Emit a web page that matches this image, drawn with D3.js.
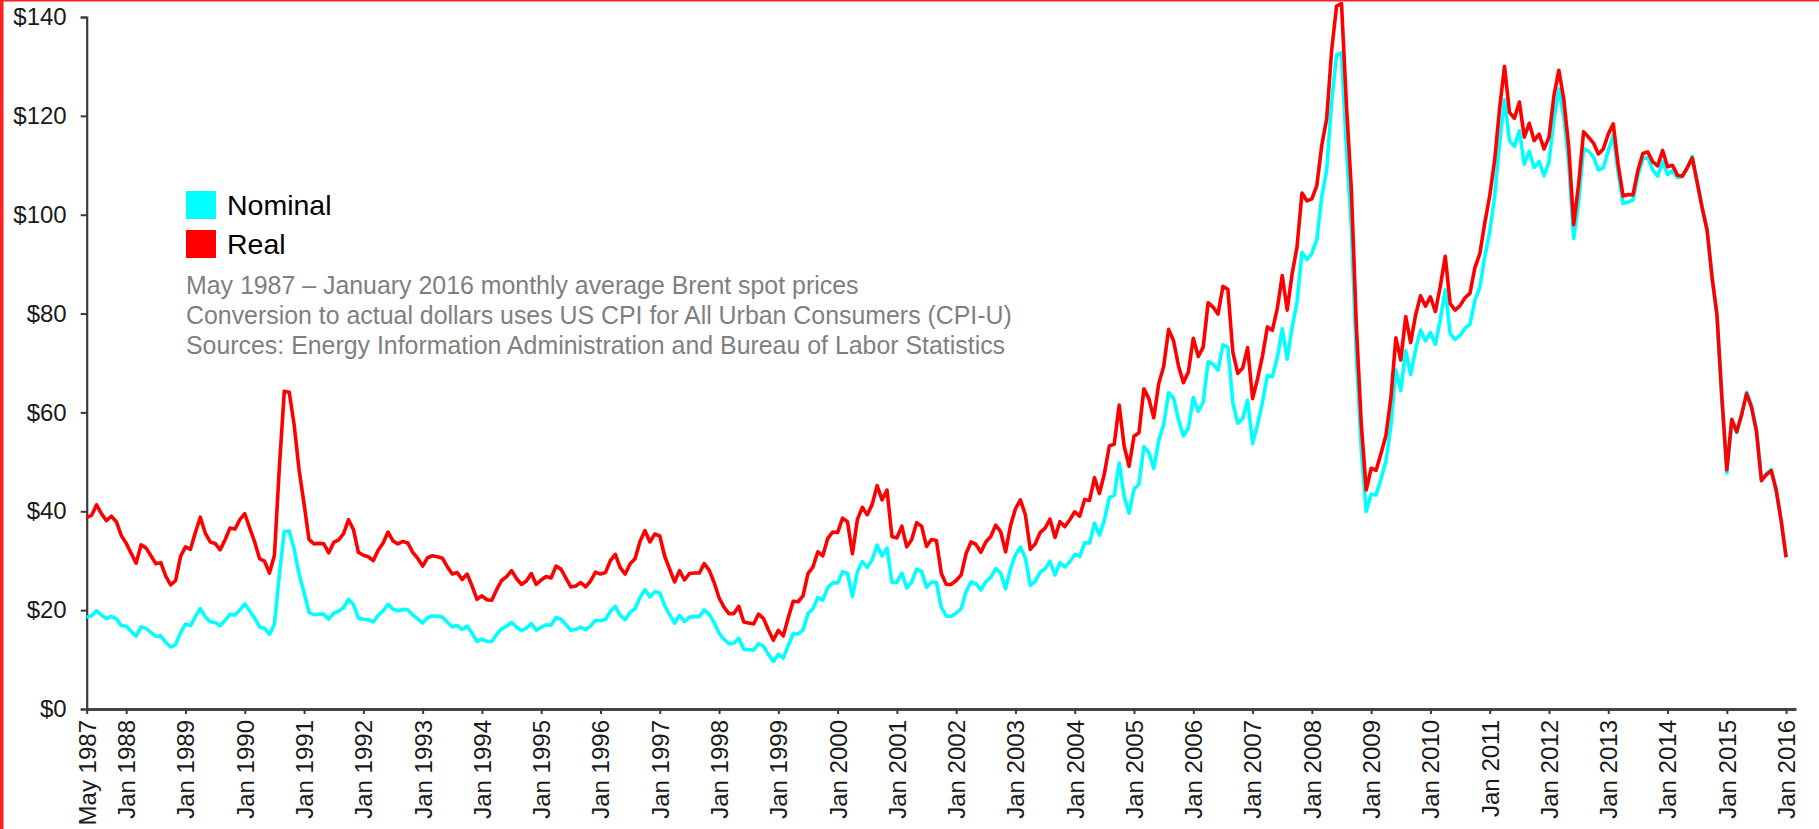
<!DOCTYPE html>
<html>
<head>
<meta charset="utf-8">
<script src="https://cdn.jsdelivr.net/npm/d3@7"></script>
<style>
  html, body { margin: 0; padding: 0; background: #fff; overflow: hidden; }
  svg { display: block; font-family: "Liberation Sans", Arial, sans-serif; }
</style>
</head>
<body>
<svg id="chart" width="1819" height="829"></svg>
<script>
// Brent spot price, monthly average, May 1987 - Jan 2016 (US$ per barrel)
const firstMonth = 'May 1987';

const nominal = [
  18.58, 18.86, 19.86, 18.98, 18.31, 18.76, 18.25, 16.88,                          // 1987
  16.75, 15.73, 14.73, 16.60, 16.31, 15.49, 14.68, 14.79, 13.45, 12.54, 13.02, 15.44, // 1988
  17.17, 16.89, 18.70, 20.32, 18.63, 17.67, 17.51, 16.83, 17.92, 19.14, 19.03, 20.02, // 1989
  21.25, 19.81, 18.39, 16.61, 16.35, 15.10, 17.17, 27.17, 35.92, 36.02, 32.31, 27.28, // 1990
  23.57, 19.54, 19.08, 19.18, 19.19, 18.17, 19.40, 19.77, 20.50, 22.21, 21.11, 18.41, // 1991
  18.16, 18.05, 17.63, 18.92, 19.89, 21.16, 20.18, 19.86, 20.15, 20.08, 19.00, 18.25, // 1992
  17.42, 18.46, 18.80, 18.75, 18.59, 17.56, 16.62, 16.90, 16.08, 16.77, 15.33, 13.67, // 1993
  14.14, 13.70, 13.64, 15.09, 16.23, 16.75, 17.53, 16.59, 15.83, 16.37, 17.30, 15.92, // 1994
  16.54, 17.04, 16.93, 18.52, 18.17, 17.11, 15.93, 16.09, 16.55, 16.07, 16.83, 17.94, // 1995
  17.87, 18.12, 19.75, 20.76, 18.93, 18.07, 19.56, 20.27, 22.57, 24.12, 22.68, 23.73, // 1996
  23.54, 20.86, 19.09, 17.36, 18.96, 17.70, 18.59, 18.68, 18.68, 20.06, 19.15, 17.47, // 1997
  15.37, 14.12, 13.20, 13.29, 14.29, 12.07, 12.03, 11.88, 13.25, 12.68, 11.05, 9.64,  // 1998
  11.03, 10.30, 12.82, 15.21, 15.18, 15.98, 19.32, 20.26, 22.54, 22.01, 24.53, 25.51, // 1999
  25.51, 27.78, 27.49, 22.76, 27.74, 29.80, 28.68, 30.20, 33.14, 30.96, 32.55, 25.66, // 2000
  25.62, 27.50, 24.50, 25.66, 28.31, 27.85, 24.61, 25.68, 25.62, 20.54, 18.80, 18.71, // 2001
  19.42, 20.28, 23.70, 25.73, 25.35, 24.08, 25.74, 26.65, 28.40, 27.54, 24.34, 28.33, // 2002
  31.18, 32.77, 30.61, 25.00, 25.86, 27.65, 28.35, 29.89, 27.11, 29.61, 28.75, 29.81, // 2003
  31.28, 30.86, 33.63, 33.59, 37.57, 35.18, 38.22, 42.74, 43.20, 49.78, 43.11, 39.60, // 2004
  44.51, 45.48, 53.10, 51.88, 48.65, 54.35, 57.52, 63.98, 62.91, 58.54, 55.24, 56.86, // 2005
  62.99, 60.21, 62.06, 70.26, 69.78, 68.56, 73.67, 73.23, 61.96, 57.81, 58.76, 62.47, // 2006
  53.68, 57.56, 62.05, 67.49, 67.21, 71.05, 76.93, 70.76, 77.17, 82.34, 92.41, 90.93, // 2007
  92.18, 94.99, 103.64, 109.07, 122.80, 132.32, 132.72, 113.24, 97.23, 71.58, 52.45, 39.95, // 2008
  43.44, 43.32, 46.54, 50.18, 57.30, 68.61, 64.44, 72.51, 67.65, 72.77, 76.66, 74.46, // 2009
  76.17, 73.75, 78.83, 84.82, 75.95, 74.76, 75.58, 77.04, 77.84, 82.67, 85.28, 91.45, // 2010
  96.52, 103.72, 114.64, 123.26, 114.99, 113.83, 116.97, 110.22, 112.83, 109.55, 110.77, 107.87, // 2011
  110.69, 119.33, 125.45, 119.75, 110.34, 95.16, 102.62, 113.36, 112.86, 111.71, 109.06, 109.49, // 2012
  112.96, 116.05, 108.47, 102.25, 102.56, 102.92, 107.93, 111.28, 111.60, 109.08, 107.79, 110.76, // 2013
  108.12, 108.90, 107.48, 107.76, 109.54, 111.80, 106.77, 101.61, 97.09, 87.43, 79.44, 62.34, // 2014
  47.76, 58.10, 55.89, 59.52, 64.08, 61.48, 56.56, 46.52, 47.62, 48.43, 44.27, 38.01, // 2015
  30.70                                                                               // 2016
];

// same months, in January 2016 dollars (CPI-U)
const real = [
  38.7, 39.2, 41.3, 39.5, 38.1, 39.0, 37.9, 35.1,                   // 1987
  33.5, 31.5, 29.5, 33.2, 32.6, 31.0, 29.4, 29.6, 26.9, 25.1, 26.0, 30.9, // 1988
  32.8, 32.3, 35.7, 38.8, 35.6, 33.8, 33.5, 32.2, 34.2, 36.6, 36.4, 38.3, // 1989
  39.5, 36.6, 33.8, 30.4, 29.9, 27.5, 31.1, 48.9, 64.3, 64.1, 57.4, 48.3, // 1990
  41.5, 34.3, 33.4, 33.5, 33.4, 31.6, 33.7, 34.2, 35.5, 38.3, 36.3, 31.7, // 1991
  31.1, 30.8, 30.0, 32.1, 33.6, 35.8, 34.0, 33.4, 33.9, 33.6, 31.7, 30.5, // 1992
  28.9, 30.6, 31.0, 30.8, 30.5, 28.8, 27.3, 27.6, 26.2, 27.3, 24.9, 22.2, // 1993
  22.9, 22.1, 22.0, 24.2, 26.0, 26.8, 28.0, 26.4, 25.2, 25.9, 27.4, 25.2, // 1994
  26.1, 26.8, 26.5, 28.9, 28.3, 26.5, 24.7, 24.9, 25.6, 24.7, 25.9, 27.7, // 1995
  27.3, 27.6, 30.0, 31.3, 28.6, 27.3, 29.4, 30.4, 33.9, 36.1, 33.8, 35.4, // 1996
  35.0, 30.9, 28.3, 25.7, 28.0, 26.1, 27.4, 27.5, 27.5, 29.4, 28.1, 25.6, // 1997
  22.5, 20.6, 19.3, 19.3, 20.8, 17.6, 17.4, 17.2, 19.2, 18.3, 16.0, 13.9, // 1998
  15.9, 14.8, 18.4, 21.8, 21.7, 22.9, 27.4, 28.7, 31.8, 31.0, 34.5, 35.8, // 1999
  35.7, 38.6, 37.9, 31.4, 38.3, 40.8, 39.3, 41.4, 45.2, 42.3, 44.3, 34.9, // 2000
  34.6, 37.0, 32.8, 34.3, 37.7, 37.0, 32.9, 34.3, 34.1, 27.4, 25.2, 25.2, // 2001
  26.0, 27.1, 31.4, 33.8, 33.3, 31.7, 33.8, 34.9, 37.2, 35.9, 31.8, 37.1, // 2002
  40.5, 42.3, 39.3, 32.3, 33.4, 35.7, 36.6, 38.4, 34.7, 37.9, 36.9, 38.3, // 2003
  39.9, 39.0, 42.4, 42.2, 46.8, 43.6, 47.6, 53.2, 53.6, 61.5, 53.2, 49.1, // 2004
  55.2, 55.9, 64.8, 62.8, 58.9, 65.8, 69.3, 76.8, 74.5, 69.4, 66.0, 68.2, // 2005
  75.0, 71.3, 73.2, 82.2, 81.3, 79.9, 85.5, 84.9, 72.2, 67.9, 69.0, 73.1, // 2006
  62.8, 66.8, 71.4, 77.3, 76.6, 81.0, 87.7, 80.7, 88.0, 93.5, 104.4, 102.8, // 2007
  103.2, 105.9, 114.0, 119.4, 133.2, 142.2, 142.7, 122.3, 105.0, 77.7, 57.7, 44.3, // 2008
  48.7, 48.3, 51.7, 55.4, 63.0, 75.1, 70.6, 79.4, 74.1, 79.7, 83.6, 81.5, // 2009
  83.4, 80.4, 85.5, 91.6, 82.0, 80.7, 81.6, 83.2, 84.1, 89.3, 92.1, 98.3, // 2010
  103.8, 111.0, 121.5, 130.0, 120.7, 119.5, 122.8, 115.7, 118.5, 115.0, 116.3, 113.3, // 2011
  115.7, 124.1, 129.2, 123.3, 113.7, 98.0, 106.2, 116.8, 115.7, 114.5, 112.3, 113.3, // 2012
  116.3, 118.4, 110.1, 103.8, 104.1, 104.0, 109.0, 112.4, 112.7, 110.7, 109.9, 113.0, // 2013
  109.7, 110.0, 108.0, 107.8, 109.5, 111.5, 106.5, 101.4, 96.9, 87.4, 79.8, 63.0, // 2014
  48.4, 58.6, 56.1, 59.6, 63.8, 61.0, 56.1, 46.2, 47.4, 48.2, 44.2, 38.1, // 2015
  30.7                                                                  // 2016
];

const tickLabels = [
  'May 1987', 'Jan 1988', 'Jan 1989', 'Jan 1990', 'Jan 1991', 'Jan 1992', 'Jan 1993',
  'Jan 1994', 'Jan 1995', 'Jan 1996', 'Jan 1997', 'Jan 1998', 'Jan 1999', 'Jan 2000',
  'Jan 2001', 'Jan 2002', 'Jan 2003', 'Jan 2004', 'Jan 2005', 'Jan 2006', 'Jan 2007',
  'Jan 2008', 'Jan 2009', 'Jan 2010', 'Jan 2011', 'Jan 2012', 'Jan 2013', 'Jan 2014',
  'Jan 2015', 'Jan 2016'
];
const yTicks = [0, 20, 40, 60, 80, 100, 120, 140];

const seriesNames = ['Nominal', 'Real'];
const seriesColors = ['#00ffff', '#ff0000'];

const notes = [
  'May 1987 \u2013 January 2016 monthly average Brent spot prices',
  'Conversion to actual dollars uses US CPI for All Urban Consumers (CPI-U)',
  'Sources: Energy Information Administration and Bureau of Labor Statistics'
];

const svg = d3.select('#chart');

// frame edges of the original screenshot
svg.append('rect').attr('x', 0).attr('y', 0).attr('width', 3.5).attr('height', 829).attr('fill', '#ff2020');
svg.append('rect').attr('x', 0).attr('y', 0).attr('width', 1819).attr('height', 1.5).attr('fill', '#ff2020');

const parseMonth = d3.timeParse('%b %Y');
const start = parseMonth(firstMonth);
const monthIndex = label => d3.timeMonth.count(start, parseMonth(label));

// axis runs two months past the last point
const x = d3.scaleLinear().domain([0, nominal.length + 1]).range([86.7, 1796]);
const y = d3.scaleLinear().domain([0, 140]).range([709, 17]);

// y axis
const yAxis = svg.append('g')
  .attr('transform', `translate(${x(0)},0)`)
  .call(d3.axisLeft(y).tickValues(yTicks).tickSize(6).tickPadding(14).tickFormat(d => '$' + d));
yAxis.select('.domain').attr('stroke', '#3a3a3a').attr('stroke-width', 2.2);
yAxis.selectAll('.tick line').attr('stroke', '#3a3a3a').attr('stroke-width', 2);
yAxis.selectAll('.tick text')
  .attr('font-size', 24)
  .attr('fill', '#1a1a1a')
  .attr('font-family', '"Liberation Sans", Arial, sans-serif');

// x axis
const xAxis = svg.append('g')
  .attr('transform', `translate(0,${y(0)})`)
  .call(d3.axisBottom(x)
    .tickValues(tickLabels.map(monthIndex))
    .tickSize(5)
    .tickSizeOuter(0)
    .tickFormat((d, i) => tickLabels[i]));
xAxis.select('.domain').attr('stroke', '#444').attr('stroke-width', 3);
xAxis.selectAll('.tick line').attr('stroke', '#3a3a3a').attr('stroke-width', 2);
xAxis.selectAll('.tick text')
  .attr('font-size', 24)
  .attr('fill', '#1a1a1a')
  .attr('font-family', '"Liberation Sans", Arial, sans-serif')
  .attr('transform', 'rotate(-90)')
  .attr('text-anchor', 'end')
  .attr('x', -11)
  .attr('y', 0)
  .attr('dy', '0.35em');

// lines: nominal first, real on top
const line = d3.line()
  .x((d, i) => x(i))
  .y(d => y(d));

[nominal, real].forEach((series, k) => {
  svg.append('path')
    .datum(series)
    .attr('fill', 'none')
    .attr('stroke', seriesColors[k])
    .attr('stroke-width', 3.6)
    .attr('stroke-linejoin', 'round')
    .attr('d', line);
});

// legend
const legend = svg.append('g').attr('transform', 'translate(186,191)');
seriesNames.forEach((name, k) => {
  const g = legend.append('g').attr('transform', `translate(0,${k * 39})`);
  g.append('rect').attr('width', 30).attr('height', 28).attr('fill', seriesColors[k]);
  g.append('text')
    .attr('x', 41)
    .attr('y', 14)
    .attr('dy', '0.35em')
    .attr('font-size', 28.5)
    .attr('fill', '#000')
    .text(name);
});

// notes under the legend
svg.append('g')
  .selectAll('text')
  .data(notes)
  .enter()
  .append('text')
  .attr('x', 186)
  .attr('y', (d, i) => 285 + i * 30.2)
  .attr('dy', '0.35em')
  .attr('font-size', 24.9)
  .attr('fill', '#7f7f7f')
  .text(d => d);
</script>
</body>
</html>
